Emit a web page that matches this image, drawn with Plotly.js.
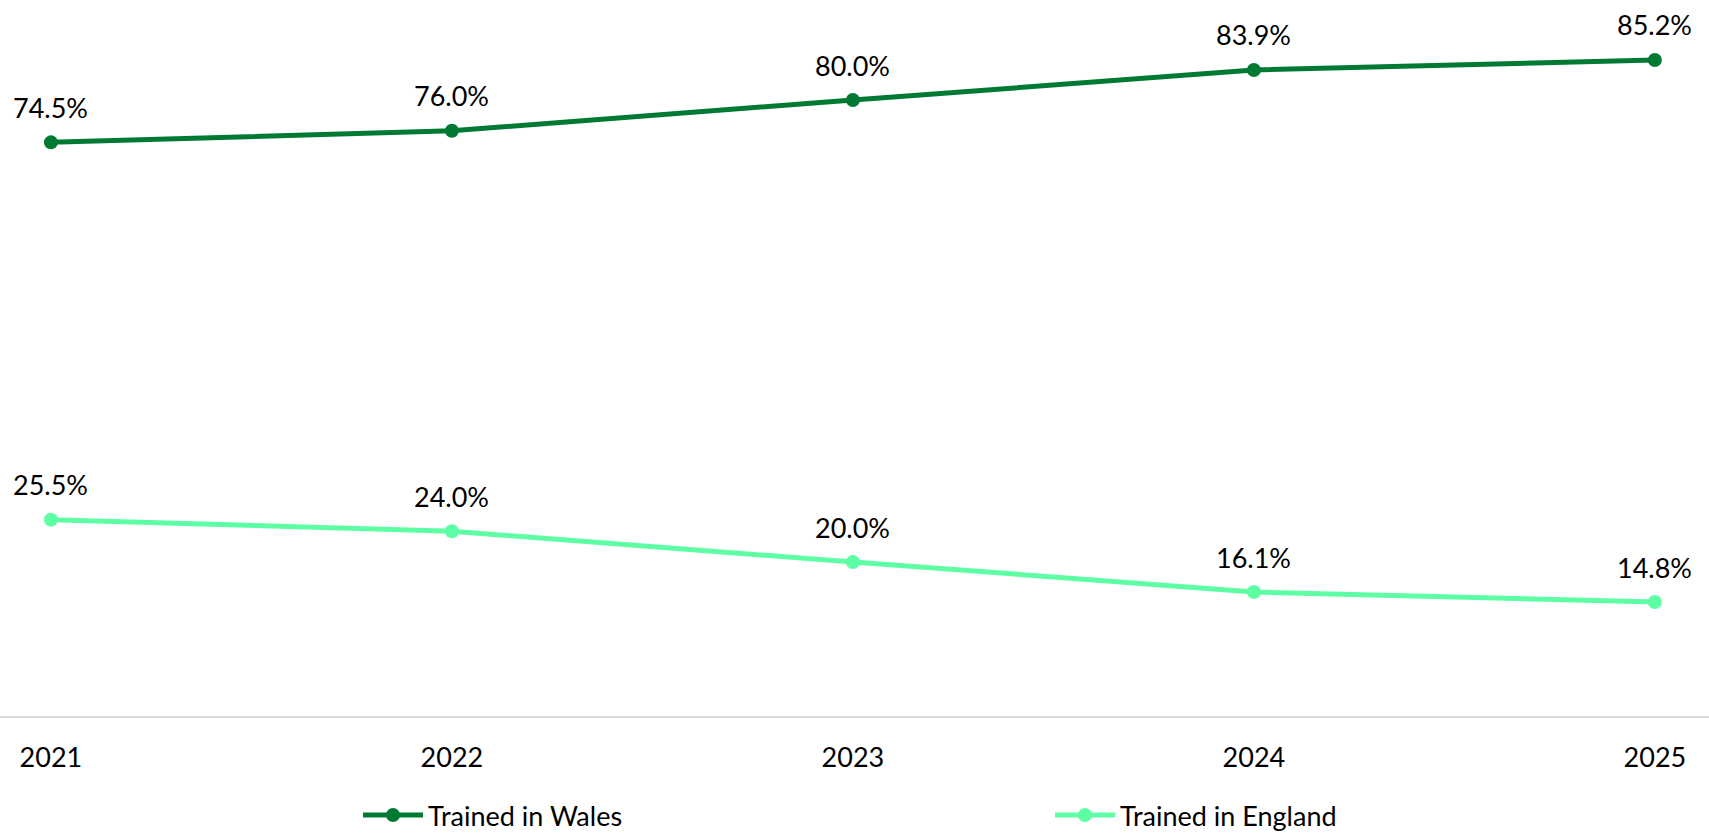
<!DOCTYPE html>
<html>
<head>
<meta charset="utf-8">
<script src="https://cdn.plot.ly/plotly-3.0.1.min.js"></script>
<style>html,body{margin:0;padding:0;background:#fff;}#chart{width:1709px;height:835px;}</style>
</head>
<body>
<div id="chart"></div>
<script>
const years = [2021, 2022, 2023, 2024, 2025];
const trainedInWales = [74.5, 76.0, 80.0, 83.9, 85.2];
const trainedInEngland = [25.5, 24.0, 20.0, 16.1, 14.8];
const seriesNames = ['Trained in Wales', 'Trained in England'];
const seriesColors = ['#007A33', '#5EFFA4'];

const FONT = 'Lato, "Open Sans", sans-serif';

function lineTrace(name, values, color, legend) {
  return {
    type: 'scatter', mode: 'lines+markers', name: name,
    x: years, y: values, legend: legend,
    line: {color: color, width: 5},
    marker: {color: color, size: 14},
    hoverinfo: 'skip'
  };
}

const traces = [
  lineTrace(seriesNames[0], trainedInWales, seriesColors[0], 'legend'),
  lineTrace(seriesNames[1], trainedInEngland, seriesColors[1], 'legend2')
];

const annotations = [];
[trainedInWales, trainedInEngland].forEach(vals => {
  vals.forEach((v, i) => {
    annotations.push({
      x: years[i], y: v, xref: 'x', yref: 'y',
      text: v.toFixed(1) + '%', showarrow: false,
      yanchor: 'middle', xanchor: 'center', yshift: 35,
      font: {family: FONT, size: 27, color: '#000'}
    });
  });
});

const legendFont = {family: FONT, size: 27, color: '#000'};

const layout = {
  width: 1709, height: 835,
  margin: {l: 0, r: 0, t: 23, b: 119, autoexpand: false},
  paper_bgcolor: '#fff', plot_bgcolor: '#fff',
  showlegend: true,
  legend: {
    orientation: 'h', x: 358/1709, xanchor: 'left',
    yref: 'container', y: 19.5/835, yanchor: 'middle',
    font: legendFont, itemwidth: 60
  },
  legend2: {
    orientation: 'h', x: 1050/1709, xanchor: 'left',
    yref: 'container', y: 19.5/835, yanchor: 'middle',
    font: legendFont, itemwidth: 60
  },
  xaxis: {
    type: 'linear', range: [2020.873, 2025.135],
    tickvals: years, ticktext: years.map(String),
    showgrid: false, zeroline: false,
    showline: true, linecolor: '#D9D9D9', linewidth: 1.5,
    ticks: '', ticklabelstandoff: 17,
    tickfont: {family: FONT, size: 27, color: '#000'},
    fixedrange: true
  },
  yaxis: {
    range: [0, 90], visible: false, showgrid: false, zeroline: false, fixedrange: true
  },
  annotations: annotations
};

Plotly.newPlot('chart', traces, layout, {displayModeBar: false, staticPlot: true});
</script>
</body>
</html>
